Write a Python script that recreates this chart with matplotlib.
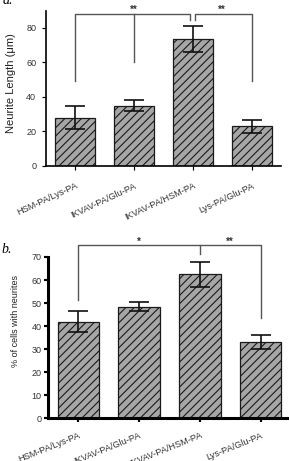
import matplotlib
matplotlib.use('Agg')
import matplotlib.pyplot as plt

# data
groups = ['HSM-PA/Lys-PA', 'IKVAV-PA/Glu-PA', 'IKVAV-PA/HSM-PA', 'Lys-PA/Glu-PA']
neurite_len = [28, 35, 73.5, 23]
neurite_err = [6.5, 3.0, 7.7, 3.8]
pct_cells = [42, 48.5, 62.5, 33]
pct_err = [4.5, 1.8, 5.5, 3.0]

plt.rcParams['font.family'] = ['Liberation Sans', 'DejaVu Sans']
plt.rcParams['hatch.color'] = '#303030'
plt.rcParams['hatch.linewidth'] = 0.8

fig = plt.figure(figsize=(2.89, 4.61), dpi=100)
ax1 = fig.add_axes([0.159, 0.640, 0.813, 0.3368])
ax2 = fig.add_axes([0.166, 0.0926, 0.841, 0.350])

x = range(len(groups))
br_col = '#555555'


def draw_bars(ax, vals, errs, spine_w, ypad, rot, xpad):
    ax.bar(x, vals, width=0.68, color='#a6a6a6', edgecolor='#1a1a1a',
           linewidth=0.9, hatch='////', zorder=2)
    ax.errorbar(x, vals, yerr=errs, fmt='none', ecolor='#111111',
                elinewidth=1.2, capsize=7, capthick=1.2, zorder=3)
    ax.set_xlim(-0.5, 3.5)
    ax.set_xticks(list(x))
    ax.set_xticklabels(groups, rotation=rot, ha='right', rotation_mode='anchor',
                       fontsize=6.6, color='#333333')
    for s in ['top', 'right']:
        ax.spines[s].set_visible(False)
    for s in ['left', 'bottom']:
        ax.spines[s].set_linewidth(spine_w)
    ax.tick_params(axis='both', direction='out', length=3, width=spine_w * 0.7)
    ax.tick_params(axis='y', labelsize=6.5, labelcolor='#333333', pad=ypad)
    ax.tick_params(axis='x', pad=xpad)


def bracket(ax, xs, ys):
    ax.plot(xs, ys, color=br_col, lw=1.0, clip_on=False, zorder=4)


# panel a
draw_bars(ax1, neurite_len, neurite_err, 1.2, 4, 25, 8)
ax1.set_ylim(0, 90)
ax1.set_yticks([0, 20, 40, 60, 80])
ax1.set_ylabel('Neurite Length (\u03bcm)', fontsize=8, color='#222222')
ax1.yaxis.set_label_coords(-0.128, 0.535)
bracket(ax1, [0, 0, 1.955, 1.955], [49, 88, 88, 84.5])
bracket(ax1, [1, 1], [60, 88])
bracket(ax1, [2.045, 2.045, 3, 3], [84.5, 88, 88, 49])
ax1.text(1, 87.5, '**', ha='center', va='bottom', fontsize=7,
         fontweight='bold', color='#333333')
ax1.text(2.5, 87.5, '**', ha='center', va='bottom', fontsize=7,
         fontweight='bold', color='#333333')

# panel b
draw_bars(ax2, pct_cells, pct_err, 2.2, 1.5, 22, 6)
ax2.set_ylim(0, 70)
ax2.set_yticks(range(0, 71, 10))
ax2.set_ylabel('% of cells with neurites', fontsize=6.5, color='#222222')
ax2.yaxis.set_label_coords(-0.115, 0.603)
bracket(ax2, [0, 0, 2, 2], [51.3, 75, 75, 71.3])
bracket(ax2, [2, 3, 3], [75, 75, 43.4])
ax2.text(1, 74.6, '*', ha='center', va='bottom', fontsize=7,
         fontweight='bold', color='#333333')
ax2.text(2.5, 74.6, '**', ha='center', va='bottom', fontsize=7,
         fontweight='bold', color='#333333')

fig.text(0.01, 1 - 4 / 461, 'a.', fontsize=10, family='Liberation Serif',
         style='italic', va='baseline')
fig.text(0.005, 1 - 253 / 461, 'b.', fontsize=10, family='Liberation Serif',
         style='italic', va='baseline')

plt.savefig('out.png', dpi=100)
